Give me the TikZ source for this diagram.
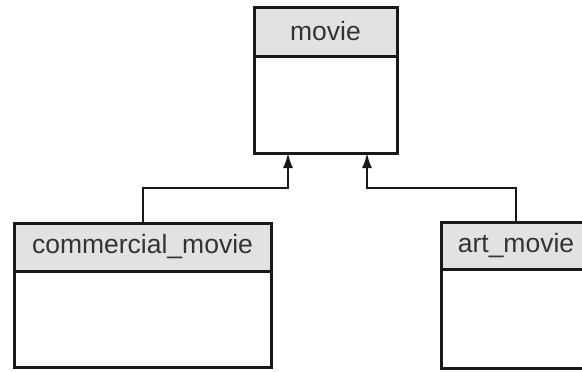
\documentclass[tikz,border=0pt]{standalone}
\usepackage{fontspec}
\setmainfont{Liberation Sans}
\usetikzlibrary{arrows.meta}
\definecolor{hdr}{HTML}{E2E2E2}
\definecolor{txt}{HTML}{333333}
\tikzset{
  box/.style={draw=black!90, line width=3pt, inner sep=0pt, outer sep=0pt, anchor=north west},
  hdrbox/.style={box, fill=hdr, text=txt, font=\fontsize{26.5}{30}\selectfont},
  bodybox/.style={box, fill=white},
  arr/.style={draw=black!90, line width=2pt, -{Latex[length=15pt,width=10pt]}},
}
\begin{document}
\begin{tikzpicture}[x=1pt,y=-1pt]
\useasboundingbox (0,0) rectangle (582,372);
\clip (0,0) rectangle (582,372);
% movie
\node[bodybox, minimum width=143pt, minimum height=97pt] (mvb) at (254,56) {};
\node[hdrbox, minimum width=143pt, minimum height=49pt] (mvh) at (254,7) {movie};
% commercial_movie
\node[bodybox, minimum width=257pt, minimum height=96pt] (cmb) at (14,271) {};
\node[hdrbox, minimum width=257pt, minimum height=48pt] (cmh) at (14,223) {commercial\_movie};
% art_movie
\node[bodybox, minimum width=150pt, minimum height=99pt] (amb) at (441,269) {};
\node[hdrbox, minimum width=150pt, minimum height=47pt] (amh) at (441,222) {art\_movie};
% connectors
\coordinate (j1) at (288,188);
\coordinate (j2) at (367,188);
\draw[arr] (cmh.north) |- (j1) -- (j1 |- mvb.south);
\draw[arr] (amh.north) |- (j2) -- (j2 |- mvb.south);
\end{tikzpicture}
\end{document}
